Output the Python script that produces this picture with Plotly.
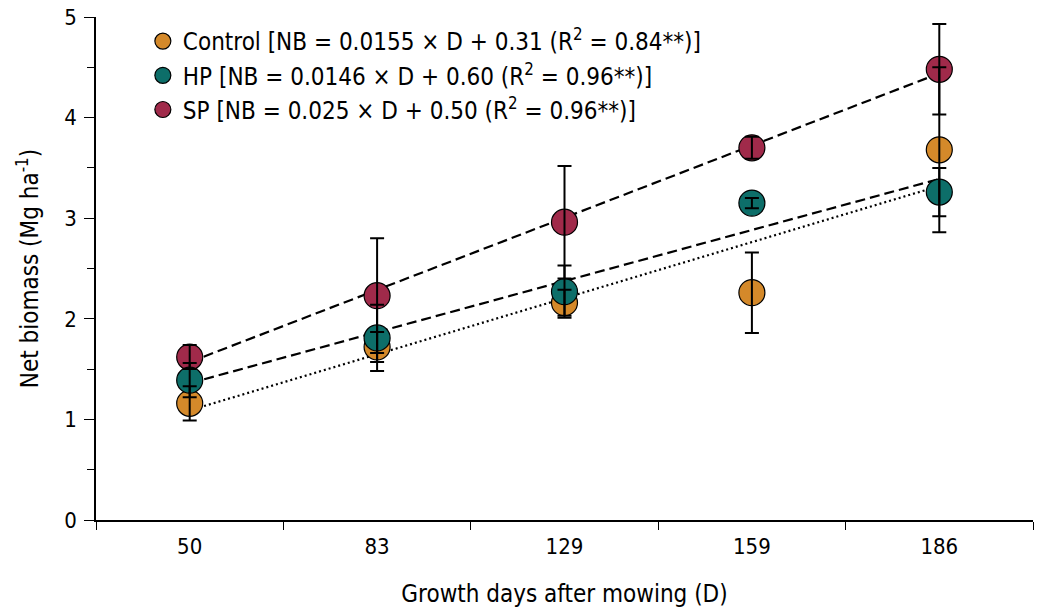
import plotly.graph_objects as go

days = ["50", "83", "129", "159", "186"]

control = [1.16, 1.72, 2.16, 2.26, 3.68]
control_err = [0.17, 0.15, 0.13, 0.40, 0.82]
hp = [1.39, 1.81, 2.27, 3.15, 3.26]
hp_err = [0.17, 0.33, 0.26, 0.05, 0.24]
sp = [1.62, 2.23, 2.96, 3.70, 4.48]
sp_err = [0.12, 0.57, 0.56, 0.11, 0.45]

fit_days = ["50", "186"]
control_fit = [1.09, 3.32]
hp_fit = [1.36, 3.39]
sp_fit = [1.57, 4.44]

names = {
    "Control": "Control [NB = 0.0155 × D + 0.31 (R<sup>2</sup> = 0.84**)]",
    "HP": "HP [NB = 0.0146 × D + 0.60 (R<sup>2</sup> = 0.96**)]",
    "SP": "SP [NB = 0.025 × D + 0.50 (R<sup>2</sup> = 0.96**)]",
}
colors = {"Control": "#D4892A", "HP": "#0D6E69", "SP": "#A02A4A"}

FONT = "DejaVu Sans Condensed, DejaVu Sans"
fig = go.Figure()

# fitted lines (under markers)
for vals, dash in [(control_fit, "2px,3px"), (hp_fit, "10px,5px"), (sp_fit, "10px,5px")]:
    fig.add_trace(go.Scatter(x=fit_days, y=vals, mode="lines",
                             line=dict(color="black", width=2.2, dash=dash),
                             showlegend=False, hoverinfo="skip"))

series = [("SP", sp, sp_err, 3), ("Control", control, control_err, 1), ("HP", hp, hp_err, 2)]
for key, vals, err, rank in series:
    fig.add_trace(go.Scatter(x=days, y=vals, mode="markers", name=names[key],
                             legendrank=rank, legendgroup=key,
                             marker=dict(size=26, color=colors[key],
                                         line=dict(color="black", width=1.2))))
# error bars on top of markers
for key, vals, err, rank in series:
    fig.add_trace(go.Scatter(x=days, y=vals, mode="markers", showlegend=False,
                             marker=dict(size=1, color="rgba(0,0,0,0)"),
                             error_y=dict(type="data", array=err, visible=True,
                                          color="black", thickness=2, width=7),
                             hoverinfo="skip"))

# the page body has an 8px margin, so the figure is sized/margined to compensate
fig.update_layout(
    width=1035, height=600,
    margin=dict(l=88, r=10, t=9, b=88),
    paper_bgcolor="white", plot_bgcolor="white",
    font=dict(family=FONT, size=20, color="black"),
    legend=dict(x=0.05, y=0.996, xanchor="left", yanchor="top",
                bgcolor="rgba(0,0,0,0)", font=dict(family=FONT, size=24, color="black"),
                itemsizing="trace", tracegroupgap=0),
)
fig.update_xaxes(type="category", categoryorder="array", categoryarray=days,
                 range=[-0.5, 4.5], tickson="boundaries", automargin=False,
                 showline=True, linecolor="black", linewidth=1.5,
                 ticks="outside", ticklen=8, tickwidth=1.2, tickcolor="black",
                 ticklabelstandoff=6, ticklabeloverflow="allow",
                 showgrid=False, zeroline=False,
                 title=dict(text="Growth days after mowing (D)", standoff=27,
                            font=dict(family=FONT, size=24, color="black")),
                 tickfont=dict(family=FONT, size=22, color="black"))
fig.update_yaxes(range=[0, 5], dtick=1, tick0=0, automargin=False,
                 showline=True, linecolor="black", linewidth=1.5,
                 ticks="outside", ticklen=10, tickwidth=1.2, tickcolor="black",
                 ticklabelstandoff=3, ticklabeloverflow="allow",
                 minor=dict(dtick=0.5, ticks="outside", ticklen=7, tickcolor="black", tickwidth=1.2),
                 showgrid=False, zeroline=False,
                 title=dict(text="Net biomass (Mg ha<sup>-1</sup>)", standoff=19,
                            font=dict(family=FONT, size=24, color="black")),
                 tickfont=dict(family=FONT, size=22, color="black"))

fig.write_html("out.html")
